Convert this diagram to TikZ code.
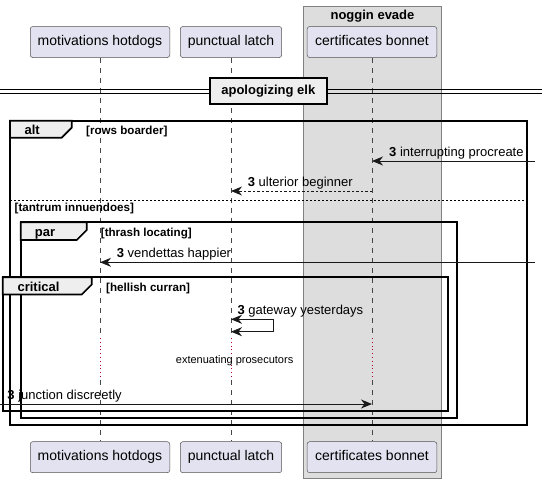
\documentclass[tikz,border=0pt]{standalone}
\usepackage{fontspec}
\setmainfont{Liberation Sans}
\usetikzlibrary{arrows.meta}
\definecolor{partfill}{HTML}{E2E2F0}
\definecolor{groupfill}{HTML}{DDDDDD}
\definecolor{tabfill}{HTML}{EEEEEE}
\definecolor{delayred}{HTML}{A80036}
\definecolor{linecol}{HTML}{181818}
\begin{document}
\begin{tikzpicture}[x=1pt,y=-1pt,
  part/.style={draw=linecol!75, line width=0.5pt, fill=partfill, rounded corners=2.5pt,
    minimum height=31pt, inner sep=0pt, text height=10pt, text depth=3pt,
    font=\fontsize{14}{16}\selectfont},
  lifeline/.style={draw=linecol!80, line width=0.5pt, dash pattern=on 5pt off 5pt},
  delayline/.style={draw=delayred, line width=0.8pt, dash pattern=on 0.8pt off 3pt},
  frm/.style={draw=black, line width=1.7pt},
  tab/.style={draw=black, line width=1.7pt, fill=tabfill},
  tablbl/.style={anchor=base, inner sep=0pt, font=\bfseries\fontsize{13}{15}\selectfont},
  guard/.style={anchor=base west, inner sep=0pt, font=\bfseries\fontsize{11.6}{13}\selectfont},
  msglbl/.style={anchor=base west, inner sep=0pt, font=\fontsize{13}{15}\selectfont},
  msg/.style={draw=linecol, line width=0.9pt, -{Stealth[length=11pt,width=9pt,inset=3.5pt]}},
  retmsg/.style={msg, dash pattern=on 2.5pt off 2pt}
]
\useasboundingbox (0,0) rectangle (542,483);

% group box
\draw[fill=groupfill, draw=black!50, line width=0.7pt] (303.3,6.7) rectangle (441.7,478.3);
\node[anchor=base, inner sep=0pt, font=\bfseries\fontsize{13}{15}\selectfont] (grp) at (372.5,19.5) {noggin evade};

% participants
\node[part, minimum width=139.5pt] (mh) at (100,42) {motivations hotdogs};
\node[part, minimum width=101.4pt] (pl) at (231,42) {punctual latch};
\node[part, minimum width=129.7pt] (cb) at (372,42) {certificates bonnet};
\node[part, minimum width=139.5pt] (mhb) at (100,457.2) {motivations hotdogs};
\node[part, minimum width=101.4pt] (plb) at (231,457.2) {punctual latch};
\node[part, minimum width=129.7pt] (cbb) at (372,457.2) {certificates bonnet};

% delay coordinates
\coordinate (mhd1) at (100,338); \coordinate (mhd2) at (100,380);
\coordinate (pld1) at (231,338); \coordinate (pld2) at (231,380);
\coordinate (cbd1) at (372,338); \coordinate (cbd2) at (372,380);

% lifelines
\draw[lifeline] (mh.south) -- (mhd1);
\draw[delayline] (mhd1) -- (mhd2);
\draw[lifeline] (mhd2) -- (mhb.north);
\draw[lifeline] (pl.south) -- (pld1);
\draw[delayline] (pld1) -- (pld2);
\draw[lifeline] (pld2) -- (plb.north);
\draw[lifeline] (cb.south) -- (cbd1);
\draw[delayline] (cbd1) -- (cbd2);
\draw[lifeline] (cbd2) -- (cbb.north);

% divider
\coordinate (dl1a) at (0,89); \coordinate (dl1b) at (542,89);
\coordinate (dl2a) at (0,93); \coordinate (dl2b) at (542,93);
\draw[line width=1pt] (dl1a) -- (dl1b);
\draw[line width=1pt] (dl2a) -- (dl2b);
\node[draw=black, line width=1.7pt, fill=tabfill, minimum width=116.7pt, minimum height=26.6pt,
  inner sep=0pt, text height=9.5pt, text depth=2.8pt, font=\bfseries\fontsize{13}{15}\selectfont] (div) at (268.3,91) {apologizing elk};

% alt frame
\draw[frm] (10,120.7) rectangle (526.7,425);
\draw[tab] (10,120.7) -- (71.7,120.7) -- (71.7,127.7) -- (61.7,137.7) -- (10,137.7) -- cycle;
\node[tablbl] (altl) at (32.2,134.3) {alt};
\node[guard] (altg) at (86,134.3) {[rows boarder]};
\draw[draw=black, line width=0.8pt, dash pattern=on 2pt off 2pt] (10,200) -- (526.7,200);
\node[guard] (altg2) at (14.5,211.7) {[tantrum innuendoes]};

% par frame
\draw[frm] (20.7,222.3) rectangle (457.3,418.3);
\draw[tab] (20.7,222.3) -- (86.7,222.3) -- (86.7,230) -- (76.7,240) -- (20.7,240) -- cycle;
\node[tablbl] (parl) at (45,236) {par};
\node[guard] (parg) at (100.7,236) {[thrash locating]};

% critical frame
\draw[frm] (2.7,277.3) rectangle (447.7,411);
\draw[tab] (2.7,277.3) -- (91.7,277.3) -- (91.7,284.5) -- (81.7,294.5) -- (2.7,294.5) -- cycle;
\node[tablbl] (crl) at (38.5,291.7) {critical};
\node[guard] (crg) at (106,291.7) {[hellish curran]};

% messages
\coordinate (m1s) at (535,161); \coordinate (m1e) at (372,161);
\draw[msg] (m1s) -- (m1e);
\node[msglbl] (m1l) at (389,156) {\textbf{3} interrupting procreate};

\coordinate (m2s) at (372,191); \coordinate (m2e) at (231,191);
\draw[retmsg] (m2s) -- (m2e);
\node[msglbl] (m2l) at (247.7,186.5) {\textbf{3} ulterior beginner};

\coordinate (m3s) at (535,262.3); \coordinate (m3e) at (100,262.3);
\draw[msg] (m3s) -- (m3e);
\node[msglbl] (m3l) at (116.7,257.5) {\textbf{3} vendettas happier};

\coordinate (m4s) at (231,319.3); \coordinate (m4a) at (273.3,319.3);
\coordinate (m4b) at (273.3,331.7); \coordinate (m4e) at (231,331.7);
\draw[msg, {Stealth[length=11pt,width=9pt,inset=3.5pt]}-{Stealth[length=11pt,width=9pt,inset=3.5pt]}] (m4s) -- (m4a) -- (m4b) -- (m4e);
\node[msglbl] (m4l) at (237.3,314.3) {\textbf{3} gateway yesterdays};

\node[anchor=base, inner sep=0pt, font=\fontsize{11}{13}\selectfont] (dly) at (234.6,363.3) {extenuating prosecutors};

\coordinate (m5s) at (0,404); \coordinate (m5e) at (372,404);
\draw[msg] (m5s) -- (m5e);
\node[msglbl] (m5l) at (7.3,399.3) {\textbf{3} junction discreetly};
\end{tikzpicture}
\end{document}
